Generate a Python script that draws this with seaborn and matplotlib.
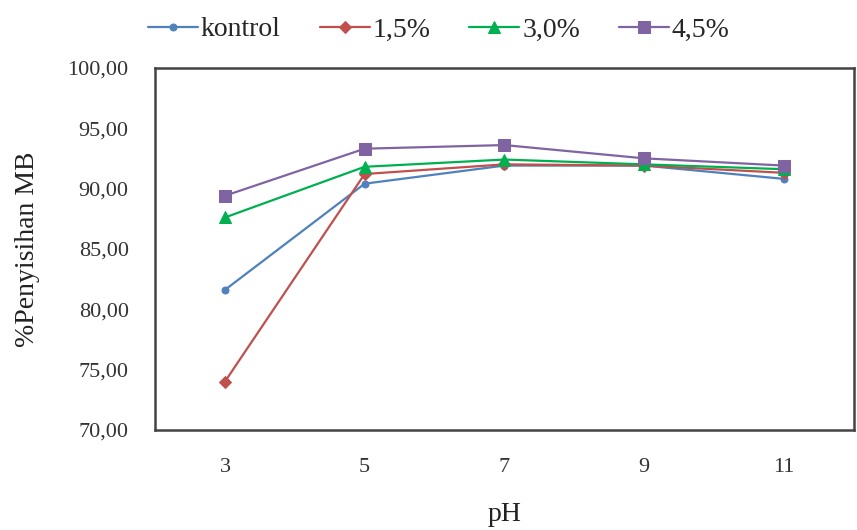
import pandas as pd
import numpy as np
import matplotlib
matplotlib.use('Agg')
import matplotlib.pyplot as plt
import seaborn as sb
from matplotlib.ticker import FuncFormatter

# data
ph = ['3', '5', '7', '9', '11']
series_names = ['kontrol', '1,5%', '3,0%', '4,5%']
kontrol = [81.6, 90.4, 91.9, 91.9, 90.8]
d15 = [74.0, 91.2, 92.0, 91.9, 91.3]
d30 = [87.6, 91.8, 92.4, 92.0, 91.6]
d45 = [89.4, 93.3, 93.6, 92.5, 91.9]

colors = ['#4F81BD', '#C0504D', '#00B050', '#8064A2']
markers = ['o', 'D', '^', 's']
msizes = [5, 6, 8, 9]

df = pd.DataFrame({
    'pH': ph * 4,
    'val': kontrol + d15 + d30 + d45,
    'grp': sum([[n] * len(ph) for n in series_names], []),
})

sb.set_style('white')
plt.rcParams['font.family'] = ['Liberation Serif', 'DejaVu Serif']

fig = plt.figure(figsize=(8.57, 5.30), dpi=100)
ax = fig.add_axes([0.181, 0.189, 0.815, 0.683])

# one lineplot per series, keeps categorical order of pH
for name, c, m, s in zip(series_names, colors, markers, msizes):
    sub = df[df['grp'] == name]
    sb.lineplot(data=sub, x='pH', y='val', sort=False, color=c, marker=m,
                markersize=s, markeredgecolor=c, linewidth=1.6, label=name, ax=ax)

ax.set_xlim(-0.5, 4.5)
ax.set_ylim(70, 100)
ax.set_yticks(np.arange(70, 100.1, 5))
ax.yaxis.set_major_formatter(FuncFormatter(lambda v, p: f'{v:.2f}'.replace('.', ',')))
ax.tick_params(axis='both', length=0, labelsize=16, colors='#333333')
ax.tick_params(axis='y', pad=19)
ax.tick_params(axis='x', pad=20)
for sp in ax.spines.values():
    sp.set_color('#444444')
    sp.set_linewidth(1.8)

ax.set_xlabel('pH', fontsize=20, color='#222222', labelpad=18)
ax.set_ylabel('%Penyisihan MB', fontsize=20, color='#222222', labelpad=20)

ax.get_legend().remove()
h, l = ax.get_legend_handles_labels()
fig.legend(h, l, loc='upper center', bbox_to_anchor=(0.512, 1.015), ncol=4, frameon=False,
           fontsize=20, handlelength=1.8, handletextpad=0.1, columnspacing=1.4)

fig.savefig('out.png', dpi=100, facecolor='white')
